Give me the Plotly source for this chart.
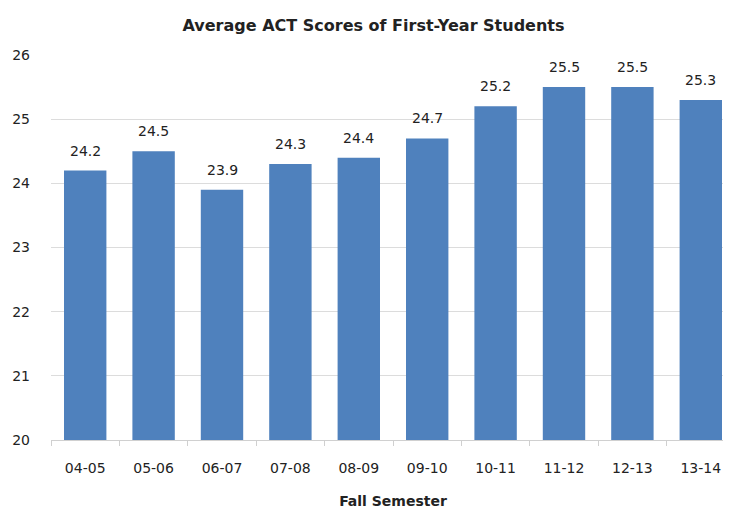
import plotly.graph_objects as go

years = ["04-05", "05-06", "06-07", "07-08", "08-09", "09-10", "10-11", "11-12", "12-13", "13-14"]
scores = [24.2, 24.5, 23.9, 24.3, 24.4, 24.7, 25.2, 25.5, 25.5, 25.3]

FONT = "DejaVu Sans, Liberation Sans, sans-serif"

fig = go.Figure(go.Bar(
    x=years, y=scores,
    marker=dict(color="#4F81BD", line=dict(width=0)),
    hoverinfo="x+y",
))

for c, v in zip(years, scores):
    fig.add_annotation(x=c, y=v, text=f"{v:.1f}", showarrow=False,
                       yanchor="middle", yshift=20,
                       font=dict(family=FONT, size=14, color="#222"))

fig.update_layout(
    width=731, height=514,
    margin=dict(l=41, r=4, t=47, b=82),
    paper_bgcolor="white", plot_bgcolor="white",
    font=dict(family=FONT, size=14, color="#222"),
    title=dict(text="<b>Average ACT Scores of First-Year Students</b>", x=0.5, xanchor="center",
               y=0.966, yanchor="middle", font=dict(size=16)),
    bargap=0.38,
    showlegend=False,
    xaxis=dict(
        type="category",
        title=dict(text="<b>Fall Semester</b>", font=dict(size=14), standoff=21),
        showline=True, linecolor="#d0d0d0", linewidth=1,
        ticks="outside", tickcolor="#d0d0d0", ticklen=5, tickson="boundaries",
        tickfont=dict(size=14),
        ticklabelstandoff=15,
    ),
    yaxis=dict(
        range=[20, 26], dtick=1, showgrid=True, gridcolor="#dcdcdc", gridwidth=1,
        zeroline=False, showline=False, ticks="", tickfont=dict(size=14),
        ticklabelstandoff=20,
    ),
)

fig.write_html("out.html")
